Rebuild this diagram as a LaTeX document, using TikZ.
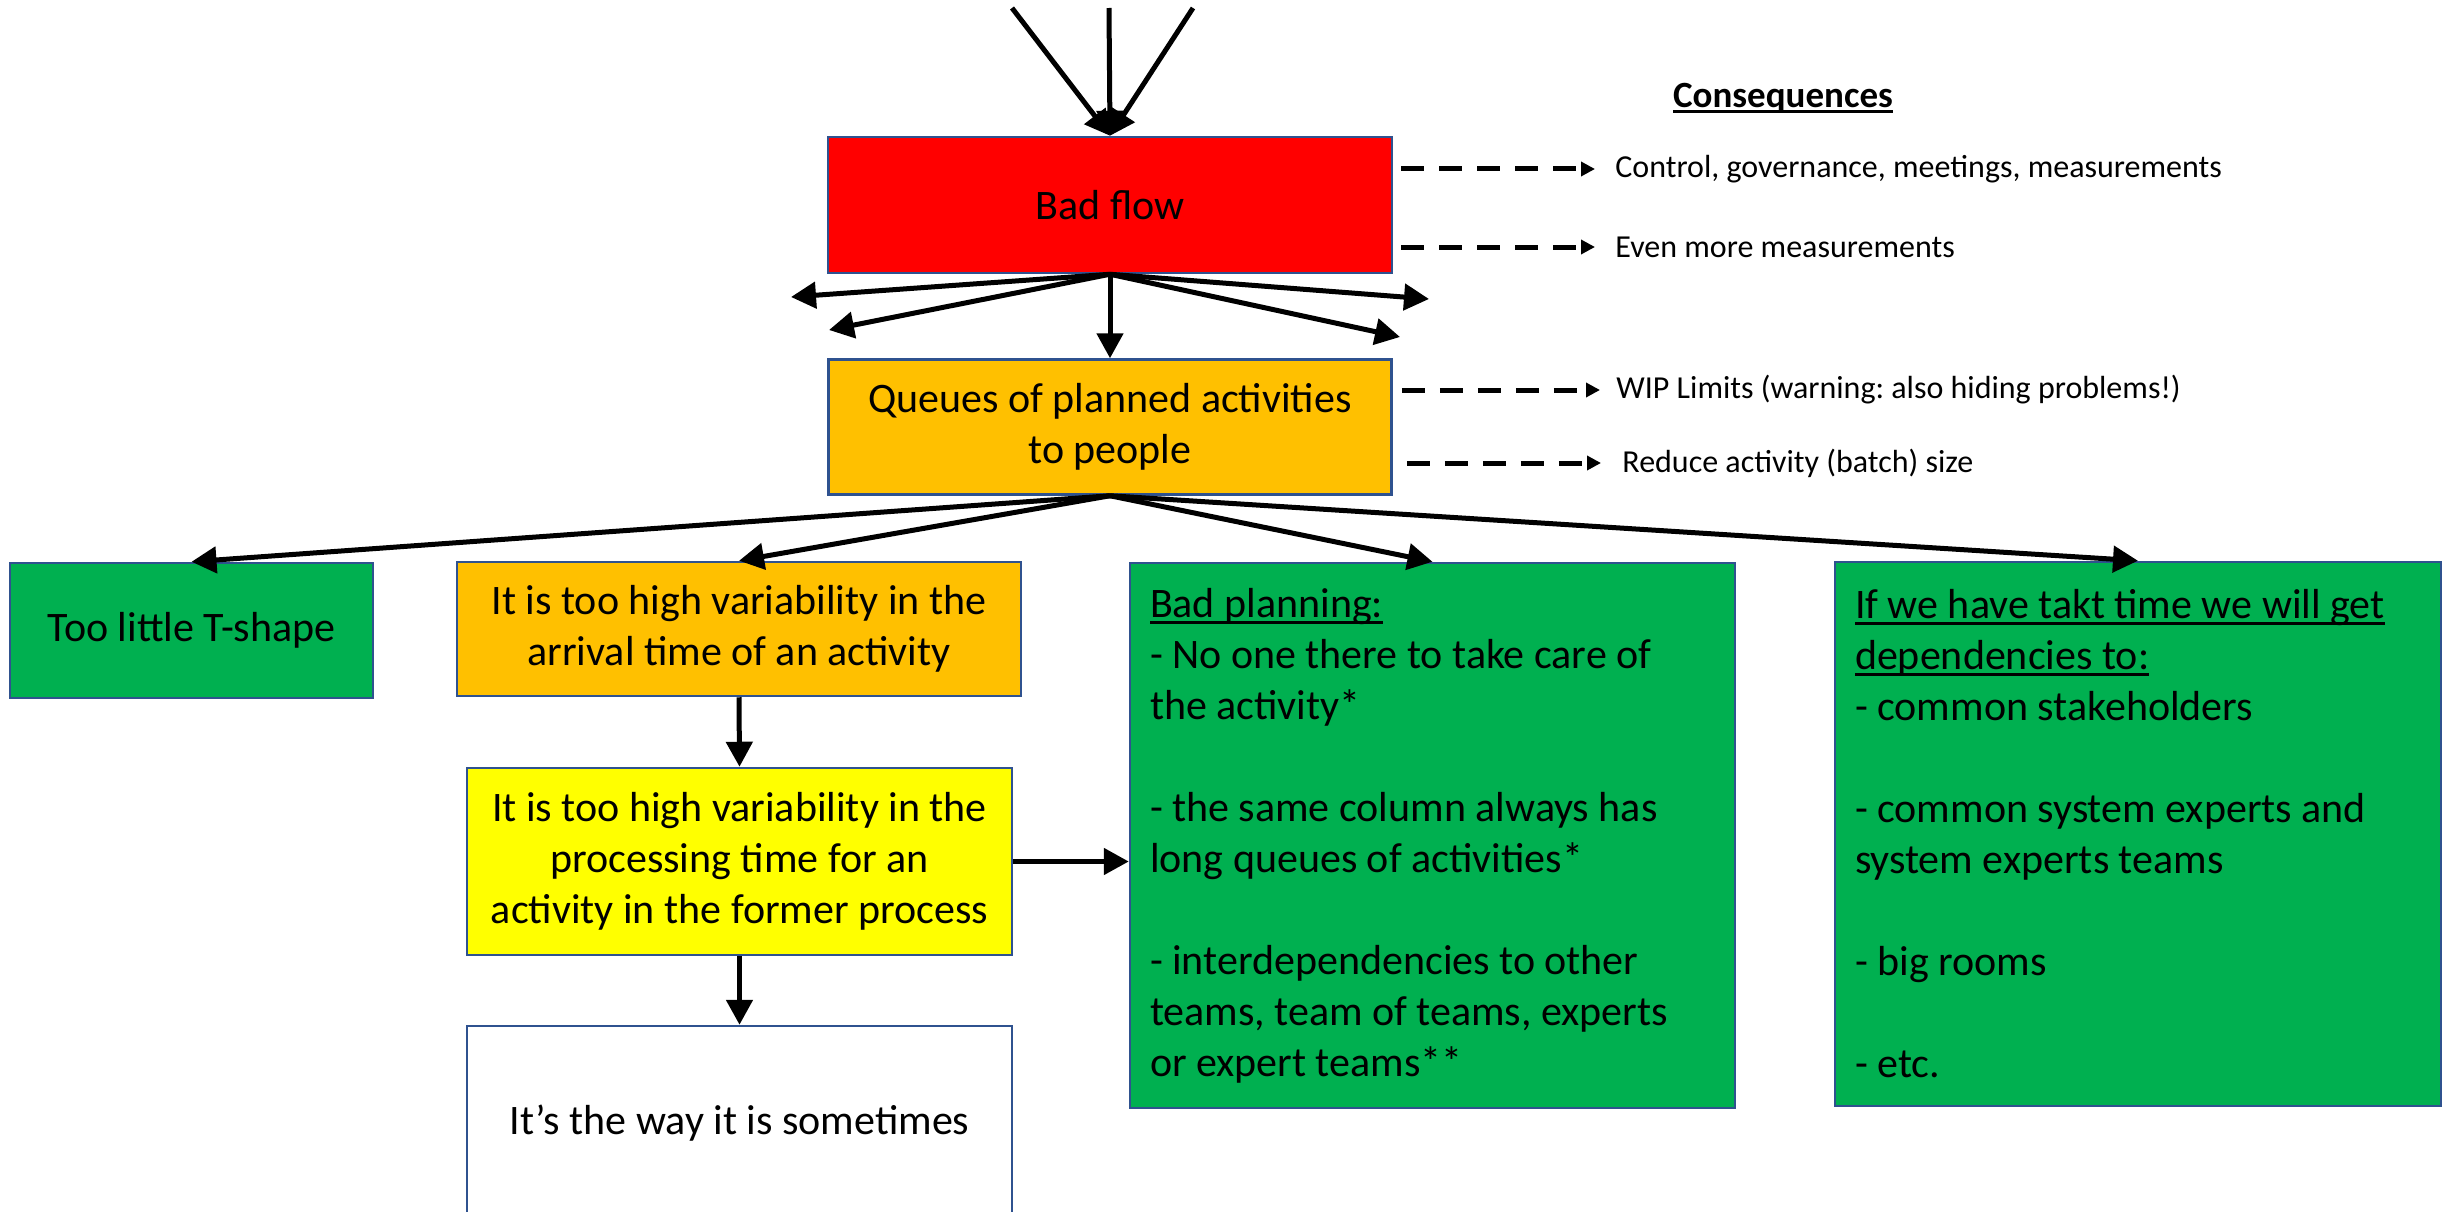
\documentclass[tikz,border=0pt]{standalone}
\usepackage{fontspec}
\setmainfont{Carlito}
\usetikzlibrary{arrows.meta}
\frenchspacing

\definecolor{boxblue}{RGB}{47,82,143}
\definecolor{flowred}{RGB}{255,0,0}
\definecolor{queueorange}{RGB}{255,192,0}
\definecolor{causegreen}{RGB}{0,176,80}
\definecolor{causeyellow}{RGB}{255,255,0}

\newsavebox\ulbox
\newcommand{\ulin}[1]{\leavevmode\sbox\ulbox{#1}\rlap{\rule[-0.15em]{\wd\ulbox}{0.07em}}\usebox\ulbox}

\begin{document}
\begin{tikzpicture}[x=1pt, y=-1pt, thick,
	box/.style={rectangle, draw=boxblue, line width=2.5pt, inner sep=0pt,
		align=center, font=\fontsize{42}{51}\selectfont},
	list box/.style={box, align=flush left, text width=#1},
	arr/.style={line width=5pt, -{Triangle[length=25pt,width=26pt]}},
	dash arr/.style={line width=5pt, dash pattern=on 23pt off 15pt,
		-{Triangle[length=14pt,width=14pt]}},
	cons/.style={anchor=west, inner sep=0pt, font=\fontsize{32}{38}\selectfont}]
	
	\path[use as bounding box, fill=white] (0,0) rectangle (2453,1212);
	
	% main chain
	\node[box, fill=flowred, minimum width=564pt, minimum height=136pt] (bad) at (1110,205) {Bad flow};
	\node[box, fill=queueorange, minimum width=563pt, minimum height=135pt] (queue) at (1110,427)
		{Queues of planned activities\\ to people};
	\node[box, fill=causegreen, minimum width=363pt, minimum height=135pt] (tshape) at (191.5,630.5)
		{Too little T-shape};
	\node[box, fill=queueorange, minimum width=564pt, minimum height=134pt] (arrival) at (739,629)
		{It is too high variability in the\\ arrival time of an activity};
	\node[box, fill=causeyellow, minimum width=545pt, minimum height=187pt] (process) at (739.5,861.5)
		{It is too high variability in the\\ processing time for an\\ activity in the former process};
	\node[box, fill=white, minimum width=545pt, minimum height=194pt] (way) at (739.5,1123)
		{It’s the way it is sometimes};
	\node[list box=565pt, fill=causegreen, minimum width=605pt, minimum height=545pt] (plan) at (1432.5,835.5)
		{\ulin{Bad planning:}\\
		- No one there to take care of\\ the activity*\\[51pt]
		- the same column always has\\ long queues of activities*\\[51pt]
		- interdependencies to other\\ teams, team of teams, experts\\ or expert teams**};
	\node[list box=566pt, fill=causegreen, minimum width=606pt, minimum height=544pt] (takt) at (2138,834)
		{\ulin{If we have takt time we will get}\\ \ulin{dependencies to:}\\
		- common stakeholders\\[51pt]
		- common system experts and\\ system experts teams\\[51pt]
		- big rooms\\[51pt]
		- etc.};
	
	% consequences
	\node[font=\fontsize{37}{44}\selectfont\bfseries] (head) at (1783,98) {\ulin{Consequences}};
	\node[cons] (c1) at (1615,169) {Control, governance, meetings, measurements};
	\node[cons] (c2) at (1615,247) {Even more measurements};
	\node[cons] (c3) at (1616,390) {WIP Limits (warning: also hiding problems!)};
	\node[cons] (c4) at (1622,463) {Reduce activity (batch) size};
	
	\coordinate (ina) at (1012,8);
	\coordinate (inb) at (1109,8);
	\coordinate (inc) at (1193,8);
	\coordinate (fl) at (791,297);
	\coordinate (ml) at (829,330);
	\coordinate (mr) at (1400,337);
	\coordinate (fr) at (1429,299);
	
	\path[arr]
	(ina) edge (bad.north)
	(inb) edge (bad.north)
	(inc) edge (bad.north)
	(bad.south) edge (fl)
	edge (ml)
	edge (queue.north)
	edge (mr)
	edge (fr)
	(queue.south) edge (tshape.north)
	edge (arrival.north)
	edge (plan.north)
	edge (takt.north)
	(arrival.south) edge (process.north)
	(process.south) edge (way.north)
	(process.east) edge (process.east -| plan.west);
	
	\path[dash arr]
	([xshift=8pt]bad.east |- c1.west) edge ([xshift=-20pt]c1.west)
	([xshift=8pt]bad.east |- c2.west) edge ([xshift=-20pt]c2.west)
	([xshift=9pt]queue.east |- c3.west) edge ([xshift=-16pt]c3.west)
	([xshift=14pt]queue.east |- c4.west) edge ([xshift=-21pt]c4.west);
\end{tikzpicture}
\end{document}
